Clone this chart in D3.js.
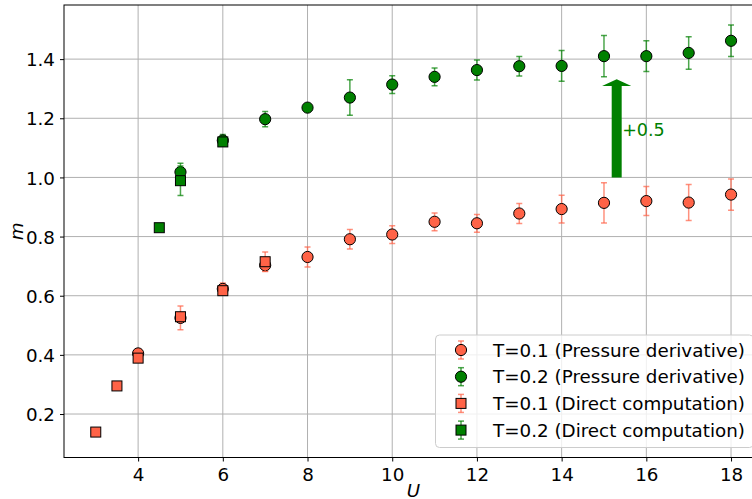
<!DOCTYPE html>
<html>
<head>
<meta charset="utf-8">
<script src="https://cdn.jsdelivr.net/npm/d3@7"></script>
<style>
  html, body { margin: 0; padding: 0; background: #fff; }
  svg { display: block; font-family: "DejaVu Sans", sans-serif; }
</style>
</head>
<body>
<svg id="chart" width="752" height="499"></svg>
<script>
// ---- Data ----
const U_T01_pd = [4, 5, 6, 7, 8, 9, 10, 11, 12, 13, 14, 15, 16, 17, 18];
const m_T01_pd = [0.405, 0.525, 0.623, 0.703, 0.731, 0.791, 0.807, 0.850, 0.845, 0.878, 0.893, 0.914, 0.920, 0.915, 0.942];
const e_T01_pd = [0.015, 0.04, 0.02, 0.02, 0.034, 0.033, 0.03, 0.03, 0.03, 0.034, 0.047, 0.068, 0.049, 0.061, 0.053];

const U_T02_pd = [5, 6, 7, 8, 9, 10, 11, 12, 13, 14, 15, 16, 17, 18];
const m_T02_pd = [1.018, 1.125, 1.197, 1.236, 1.270, 1.314, 1.340, 1.363, 1.376, 1.377, 1.410, 1.410, 1.421, 1.462];
const e_T02_pd = [0.03, 0.02, 0.026, 0.01, 0.06, 0.03, 0.03, 0.034, 0.033, 0.052, 0.07, 0.052, 0.055, 0.053];

const U_T01_dc = [3, 3.5, 4, 5, 6, 7];
const m_T01_dc = [0.139, 0.295, 0.389, 0.529, 0.617, 0.715];
const e_T01_dc = [0, 0, 0, 0.01, 0.005, 0.033];

const U_T02_dc = [4.5, 5, 6];
const m_T02_dc = [0.830, 0.989, 1.120];
const e_T02_dc = [0, 0.05, 0.01];

const seriesLabels = [
  "T=0.1 (Pressure derivative)",
  "T=0.2 (Pressure derivative)",
  "T=0.1 (Direct computation)",
  "T=0.2 (Direct computation)"
];
const xTicks = [4, 6, 8, 10, 12, 14, 16, 18];
const yTicks = [0.2, 0.4, 0.6, 0.8, 1.0, 1.2, 1.4];
const xDomain = [2.25, 18.75];
const yDomain = [0.053, 1.583];

// annotation arrow (data units)
const arrowX = 15.3, arrowY0 = 1.0, arrowY1 = 1.332, arrowHeadLen = 0.023;
const arrowShaftW = 0.236, arrowHeadW = 0.69;
const arrowLabel = "+0.5";

// ---- Layout ----
const svg = d3.select("#chart");
const L = 64, R = 762.8, T = 5, B = 457.5;
const x = d3.scaleLinear().domain(xDomain).range([L, R]);
const y = d3.scaleLinear().domain(yDomain).range([B, T]);

const RED = "#ff6347", GREEN = "#008000";
const FS = 18.3;

const defs = svg.append("defs");
defs.append("clipPath").attr("id", "clip").append("rect")
  .attr("x", L).attr("y", T).attr("width", R - L).attr("height", B - T);

// grid
const grid = svg.append("g");
grid.selectAll("line.gx").data(xTicks).join("line")
  .attr("x1", d => x(d)).attr("x2", d => x(d)).attr("y1", T).attr("y2", B)
  .attr("stroke", "#b0b0b0").attr("stroke-width", 1);
grid.selectAll("line.gy").data(yTicks).join("line")
  .attr("y1", d => y(d)).attr("y2", d => y(d)).attr("x1", L).attr("x2", R)
  .attr("stroke", "#b0b0b0").attr("stroke-width", 1);

// axes
const xAxis = d3.axisBottom(x).tickValues(xTicks).tickSize(4).tickPadding(6).tickFormat(d3.format("d"));
const yAxis = d3.axisLeft(y).tickValues(yTicks).tickSize(4).tickPadding(5).tickFormat(d3.format(".1f"));
const gx = svg.append("g").attr("transform", `translate(0,${B})`).call(xAxis);
const gy = svg.append("g").attr("transform", `translate(${L},0)`).call(yAxis);
[gx, gy].forEach(g => {
  g.select(".domain").remove();
  g.selectAll("text").attr("font-family", "DejaVu Sans").attr("font-size", FS).attr("fill", "#000");
  g.selectAll("line").attr("stroke", "#000");
});
gx.selectAll("text").attr("dy", null).attr("y", 23.5);
gy.selectAll("text").attr("dy", "0.36em");

// spines
svg.append("rect").attr("x", L).attr("y", T).attr("width", R - L).attr("height", B - T)
  .attr("fill", "none").attr("stroke", "#000").attr("stroke-width", 1);

// axis labels
svg.append("text").attr("x", (L + R) / 2).attr("y", 496.5).attr("text-anchor", "middle")
  .attr("font-size", FS).attr("font-style", "italic").text("U");
svg.append("text").attr("transform", `translate(23,${(T + B) / 2}) rotate(-90)`).attr("text-anchor", "middle")
  .attr("font-size", FS).attr("font-style", "italic").text("m");

// data
const plot = svg.append("g").attr("clip-path", "url(#clip)");
const CAP = 3;
function drawSeries(Us, ms, es, color, shape) {
  const data = Us.map((u, i) => ({ u, m: ms[i], e: es[i] }));
  const g = plot.append("g");
  const eb = g.append("g").attr("stroke", color).attr("stroke-opacity", 0.7).attr("stroke-width", 1.5);
  eb.selectAll("line.v").data(data).join("line")
    .attr("x1", d => x(d.u)).attr("x2", d => x(d.u))
    .attr("y1", d => y(d.m - d.e)).attr("y2", d => y(d.m + d.e));
  eb.selectAll("line.ct").data(data).join("line")
    .attr("x1", d => x(d.u) - CAP).attr("x2", d => x(d.u) + CAP)
    .attr("y1", d => y(d.m + d.e)).attr("y2", d => y(d.m + d.e));
  eb.selectAll("line.cb").data(data).join("line")
    .attr("x1", d => x(d.u) - CAP).attr("x2", d => x(d.u) + CAP)
    .attr("y1", d => y(d.m - d.e)).attr("y2", d => y(d.m - d.e));
  if (shape === "circle") {
    g.selectAll("circle").data(data).join("circle")
      .attr("cx", d => x(d.u)).attr("cy", d => y(d.m)).attr("r", 5.6)
      .attr("fill", color).attr("stroke", "#000").attr("stroke-width", 1);
  } else {
    const s = 10;
    g.selectAll("rect").data(data).join("rect")
      .attr("x", d => x(d.u) - s / 2).attr("y", d => y(d.m) - s / 2).attr("width", s).attr("height", s)
      .attr("fill", color).attr("stroke", "#000").attr("stroke-width", 1);
  }
}
drawSeries(U_T01_pd, m_T01_pd, e_T01_pd, RED, "circle");
drawSeries(U_T02_pd, m_T02_pd, e_T02_pd, GREEN, "circle");
drawSeries(U_T01_dc, m_T01_dc, e_T01_dc, RED, "square");
drawSeries(U_T02_dc, m_T02_dc, e_T02_dc, GREEN, "square");

// arrow annotation
const ax = x(arrowX), sw = arrowShaftW * (x(1) - x(0)) / 2, hw = arrowHeadW * (x(1) - x(0)) / 2;
const yb = y(arrowY0), yh = y(arrowY1 - arrowHeadLen), yt = y(arrowY1);
plot.append("path")
  .attr("d", `M${ax - sw},${yb} L${ax - sw},${yh} L${ax - hw},${yh} L${ax},${yt} L${ax + hw},${yh} L${ax + sw},${yh} L${ax + sw},${yb} Z`)
  .attr("fill", GREEN);
svg.append("text").attr("x", ax + sw + 0.5).attr("y", 136).attr("font-size", 17.5)
  .attr("fill", GREEN).text(arrowLabel);

// legend
const lg = svg.append("g");
lg.append("rect").attr("x", 435.5).attr("y", 335).attr("width", 318).attr("height", 112.5)
  .attr("rx", 4).attr("fill", "#fff").attr("fill-opacity", 0.8).attr("stroke", "#cccccc").attr("stroke-width", 1);
const legendItems = [
  { label: seriesLabels[0], color: RED, shape: "circle" },
  { label: seriesLabels[1], color: GREEN, shape: "circle" },
  { label: seriesLabels[2], color: RED, shape: "square" },
  { label: seriesLabels[3], color: GREEN, shape: "square" }
];
legendItems.forEach((it, i) => {
  const cy = 350 + i * 26.7, cx = 461;
  const g = lg.append("g");
  const eb = g.append("g").attr("stroke", it.color).attr("stroke-opacity", 0.7).attr("stroke-width", 1.5);
  eb.append("line").attr("x1", cx).attr("x2", cx).attr("y1", cy - 9).attr("y2", cy + 9);
  eb.append("line").attr("x1", cx - CAP).attr("x2", cx + CAP).attr("y1", cy - 9).attr("y2", cy - 9);
  eb.append("line").attr("x1", cx - CAP).attr("x2", cx + CAP).attr("y1", cy + 9).attr("y2", cy + 9);
  if (it.shape === "circle") {
    g.append("circle").attr("cx", cx).attr("cy", cy).attr("r", 5.6)
      .attr("fill", it.color).attr("stroke", "#000").attr("stroke-width", 1);
  } else {
    g.append("rect").attr("x", cx - 5).attr("y", cy - 5).attr("width", 10).attr("height", 10)
      .attr("fill", it.color).attr("stroke", "#000").attr("stroke-width", 1);
  }
  g.append("text").attr("x", 493).attr("y", cy + 6.5).attr("font-size", FS).attr("fill", "#000")
    .attr("textLength", 252).attr("lengthAdjust", "spacing").text(it.label);
});
</script>
</body>
</html>
